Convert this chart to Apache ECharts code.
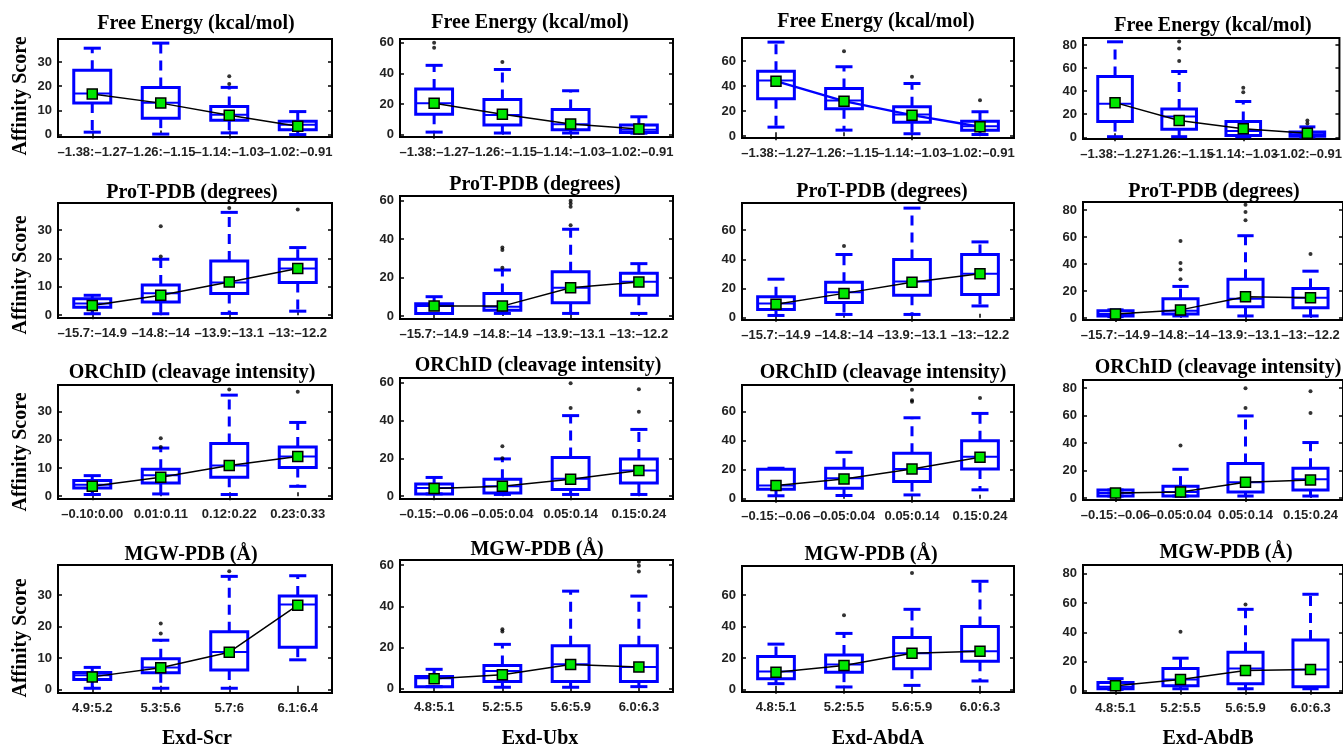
<!DOCTYPE html>
<html>
<head>
<meta charset="utf-8">
<script src="https://cdn.jsdelivr.net/npm/echarts@6/dist/echarts.min.js"></script>
<style>
  html, body { margin: 0; padding: 0; background: #fff; }
  #chart { width: 1343px; height: 752px; }
</style>
</head>
<body>
<div id="chart"></div>
<script>
// category labels
const energyCats = ['–1.38:–1.27', '–1.26:–1.15', '–1.14:–1.03', '–1.02:–0.91'];
const protCats = ['–15.7:–14.9', '–14.8:–14', '–13.9:–13.1', '–13:–12.2'];
const orchidCatsScr = ['–0.10:0.00', '0.01:0.11', '0.12:0.22', '0.23:0.33'];
const orchidCats = ['–0.15:–0.06', '–0.05:0.04', '0.05:0.14', '0.15:0.24'];
const mgwCatsScr = ['4.9:5.2', '5.3:5.6', '5.7:6', '6.1:6.4'];
const mgwCats = ['4.8:5.1', '5.2:5.5', '5.6:5.9', '6.0:6.3'];

const featureTitles = ['Free Energy (kcal/mol)', 'ProT-PDB (degrees)', 'ORChID (cleavage intensity)', 'MGW-PDB (Å)'];
const complexNames = ['Exd-Scr', 'Exd-Ubx', 'Exd-AbdA', 'Exd-AbdB'];
const yTicks = [[0, 10, 20, 30], [0, 20, 40, 60], [0, 20, 40, 60], [0, 20, 40, 60, 80]];
const yRange = [[-1, 39.5], [-1.5, 62.5], [-1.5, 78.5], [-1.5, 86]];

// box stats: [low whisker, q1, median, q3, high whisker]
// Exd-Scr
const scrEnergyBox = [[1, 13, 17, 26.6, 35.7], [0.2, 6.8, 13.2, 19.5, 37.8], [0.7, 5.9, 8.2, 11.6, 19.5], [0, 2, 4.1, 5.5, 9.5]];
const scrEnergyMean = [16.8, 13, 8, 3.4];
const scrEnergyOut = [[2, 24.1], [2, 20.9]];
const scrProtBox = [[0.5, 2.8, 4.1, 5.8, 7], [0.5, 4.6, 7.7, 10.6, 19.7], [0.6, 7.6, 11.5, 19.1, 36.2], [1.4, 11.5, 16.4, 19.7, 23.8]];
const scrProtMean = [3.4, 7, 11.7, 16.4];
const scrProtOut = [[1, 31.3], [1, 20.7], [2, 37.7], [3, 37.2]];
const scrOrchidBox = [[0.6, 2.9, 4.1, 5.6, 7.3], [0.8, 4.7, 7.4, 9.6, 17.1], [0.6, 6.7, 10.9, 18.7, 35.9], [3.5, 10.2, 14.1, 17.5, 26.2]];
const scrOrchidMean = [3.5, 6.7, 10.9, 14.1];
const scrOrchidOut = [[1, 20.6], [1, 17.5], [2, 37.9], [3, 37.1]];
const scrMgwBox = [[0.5, 3.3, 4.6, 5.5, 7.1], [0.5, 5.4, 7.1, 9.8, 15.7], [0.5, 6.3, 12, 18.4, 35.9], [9.5, 13.5, 27, 29.7, 36.1]];
const scrMgwMean = [4.1, 7, 11.9, 26.8];
const scrMgwOut = [[1, 21], [1, 17.8], [2, 37.5]];

// Exd-Ubx
const ubxEnergyBox = [[1.7, 13.4, 20.6, 29.8, 45.3], [1.1, 6.4, 12.8, 23, 42.6], [1.1, 3.2, 6.8, 16.4, 28.7], [1, 1.5, 3.2, 6.4, 11.7]];
const ubxEnergyMean = [20.6, 13.4, 7, 3.8];
const ubxEnergyOut = [[0, 60], [0, 56.8], [1, 47.4]];
const ubxProtBox = [[1.4, 1.4, 5.2, 6.4, 10.1], [1.4, 3.1, 4.9, 11.8, 24], [1.4, 7, 14.8, 23.1, 45.2], [1.4, 10.8, 17.9, 22.3, 27.3]];
const ubxProtMean = [5.2, 5.2, 14.8, 17.7];
const ubxProtOut = [[1, 35.7], [1, 34.4], [1, 25.2], [2, 60], [2, 58.6], [2, 56.9], [2, 47.3]];
const ubxOrchidBox = [[1.2, 1.2, 4.3, 6.4, 9.9], [0.9, 1.7, 5.2, 9, 19.7], [0.9, 3.5, 9.2, 20.5, 42.6], [0.9, 7, 13.6, 19.7, 35.3]];
const ubxOrchidMean = [4, 5.2, 9, 13.6];
const ubxOrchidOut = [[1, 26.4], [1, 20], [2, 59.7], [2, 46.6], [3, 56.5], [3, 44.7]];
const ubxMgwBox = [[1.1, 1.1, 5.2, 6, 9.5], [0.8, 3.6, 8.7, 11.4, 21.6], [0.8, 3.6, 11.9, 20.9, 47.4], [1.1, 3.6, 10.6, 20.9, 45]];
const ubxMgwMean = [4.9, 6.9, 11.8, 10.6];
const ubxMgwOut = [[1, 28.9], [1, 27.8], [3, 61.6], [3, 59.7], [3, 56.9]];

// Exd-AbdA
const abdaEnergyBox = [[7.2, 29.9, 44.5, 52, 75.2], [4.8, 21.9, 28.5, 38.1, 55.5], [1.9, 11.2, 17.3, 23.5, 42.1], [1.3, 4.8, 8, 12, 19.5]];
const abdaEnergyMean = [44, 28, 16.8, 7.5];
const abdaEnergyOut = [[1, 68], [2, 47.5], [3, 28.8]];
const abdaProtBox = [[1.6, 5.6, 9.7, 14.4, 26.4], [2.3, 10.4, 17.4, 24.3, 43.3], [2.3, 15.5, 24.8, 39.8, 75], [8.1, 16, 30.1, 43.3, 51.9]];
const abdaProtMean = [9.3, 16.7, 24.3, 30.1];
const abdaProtOut = [[1, 49.1]];
const abdaOrchidBox = [[2.1, 6.6, 9.2, 20.4, 21.1], [2.3, 7.3, 14.2, 21.1, 32.1], [2.7, 11.9, 20.6, 31.4, 55.9], [6.2, 20.6, 29.1, 40.1, 58.9]];
const abdaOrchidMean = [9.2, 13.7, 20.6, 28.6];
const abdaOrchidOut = [[2, 75.3], [2, 68], [2, 66.9], [3, 69.6]];
const abdaMgwBox = [[3.8, 6.9, 11.5, 21, 28.9], [1.7, 11.1, 15.9, 22, 35.7], [2.7, 13.2, 23.1, 33.1, 51], [5.5, 18, 24.3, 40.1, 68.8]];
const abdaMgwMean = [11.1, 15.3, 23.1, 24.3];
const abdaMgwOut = [[1, 47.2], [2, 74]];

// Exd-AbdB
const abdbEnergyBox = [[0.5, 13.6, 29, 52.7, 82.7], [0.5, 7, 18, 24.5, 57], [0.5, 1.5, 5.5, 13.6, 31], [0.3, 0.8, 2.7, 4.5, 9]];
const abdbEnergyMean = [30, 14.5, 7.3, 3.5];
const abdbEnergyOut = [[1, 83], [1, 77], [1, 66], [2, 43], [2, 39], [3, 14.5], [3, 12]];
const abdbProtBox = [[1, 1.5, 3, 5.3, 6], [1.5, 3, 5.3, 14.3, 23.4], [1.5, 8.3, 14.3, 28.7, 61], [1.5, 7.5, 15, 21.9, 34.7]];
const abdbProtMean = [3, 6, 15.8, 15];
const abdbProtOut = [[1, 57], [1, 40.8], [1, 36], [1, 28.7], [2, 84], [2, 78.5], [2, 72.5], [3, 47.5]];
const abdbOrchidBox = [[1.4, 1.4, 3.6, 5.8, 5.8], [1.4, 1.4, 4.3, 8.6, 20.9], [1.4, 4.3, 11.5, 25.2, 59.8], [1.4, 5.8, 13.7, 21.6, 40.4]];
const abdbOrchidMean = [3.6, 4.3, 11.5, 13];
const abdbOrchidOut = [[1, 38.2], [2, 80], [2, 65.6], [3, 77.8], [3, 62]];
const abdbMgwBox = [[1, 1.4, 2.8, 5.6, 8.3], [1.4, 3.5, 7.7, 15.3, 22.3], [1.4, 4.9, 15.3, 26.4, 55.7], [1.4, 2.8, 14.6, 34.8, 66]];
const abdbMgwMean = [3.5, 7.7, 13.9, 14.6];
const abdbMgwOut = [[1, 40.3], [2, 59]];

// column x row
const boxes = [
  [scrEnergyBox, scrProtBox, scrOrchidBox, scrMgwBox],
  [ubxEnergyBox, ubxProtBox, ubxOrchidBox, ubxMgwBox],
  [abdaEnergyBox, abdaProtBox, abdaOrchidBox, abdaMgwBox],
  [abdbEnergyBox, abdbProtBox, abdbOrchidBox, abdbMgwBox]
];
const means = [
  [scrEnergyMean, scrProtMean, scrOrchidMean, scrMgwMean],
  [ubxEnergyMean, ubxProtMean, ubxOrchidMean, ubxMgwMean],
  [abdaEnergyMean, abdaProtMean, abdaOrchidMean, abdaMgwMean],
  [abdbEnergyMean, abdbProtMean, abdbOrchidMean, abdbMgwMean]
];
const outliers = [
  [scrEnergyOut, scrProtOut, scrOrchidOut, scrMgwOut],
  [ubxEnergyOut, ubxProtOut, ubxOrchidOut, ubxMgwOut],
  [abdaEnergyOut, abdaProtOut, abdaOrchidOut, abdaMgwOut],
  [abdbEnergyOut, abdbProtOut, abdbOrchidOut, abdbMgwOut]
];
const cats = [
  [energyCats, protCats, orchidCatsScr, mgwCatsScr],
  [energyCats, protCats, orchidCats, mgwCats],
  [energyCats, protCats, orchidCats, mgwCats],
  [energyCats, protCats, orchidCats, mgwCats]
];

// layout (pixels)
const colLeft = [58, 400, 742, 1083];
const colWidth = [274, 273, 272, 273];
const panelTop = [[39, 203, 385, 565], [39, 196, 378, 560], [38, 203, 385, 566], [38, 202, 380, 565]];
const panelBottom = [[137, 318, 499, 693], [137, 319, 499, 692], [138, 320, 501, 692], [139, 320, 500, 693]];
const titleX = [[196, 192, 192, 191], [530, 535, 538, 537], [876, 882, 883, 871], [1213, 1214, 1218, 1226]];
const titleY = [[24, 193, 373, 555], [23, 185, 366, 550], [22, 192, 373, 555], [26, 192, 368, 553]];
const yNameY = [96, 275, 452, 638];
const bottomNameX = [197, 540, 878, 1208];

const BLUE = '#0000ff';

function renderBox(params, api) {
  const i = api.value(0);
  const band = api.size([1, 0])[0];
  const hw = band * 0.27;
  const cw = band * 0.125;
  const x = api.coord([i, 0])[0];
  const y = (k) => api.coord([i, api.value(k)])[1];
  const lo = y(1), q1 = y(2), md = y(3), q3 = y(4), hi = y(5);
  const dash = { stroke: BLUE, lineWidth: 3, lineDash: [10, 7] };
  const solid = { stroke: BLUE, lineWidth: 3 };
  return {
    type: 'group',
    children: [
      { type: 'line', shape: { x1: x, y1: q3, x2: x, y2: hi }, style: dash },
      { type: 'line', shape: { x1: x, y1: q1, x2: x, y2: lo }, style: dash },
      { type: 'line', shape: { x1: x - cw, y1: hi, x2: x + cw, y2: hi }, style: solid },
      { type: 'line', shape: { x1: x - cw, y1: lo, x2: x + cw, y2: lo }, style: solid },
      { type: 'rect', shape: { x: x - hw, y: q3, width: hw * 2, height: q1 - q3 }, style: { fill: 'none', stroke: BLUE, lineWidth: 3 } },
      { type: 'line', shape: { x1: x - hw, y1: md, x2: x + hw, y2: md }, style: { stroke: BLUE, lineWidth: 2 } }
    ]
  };
}

const grids = [], xAxes = [], yAxes = [], series = [], graphics = [];
const labelFont = { color: '#222', fontSize: 13, fontWeight: 'bold', fontFamily: 'Liberation Sans' };
const tickStyle = { color: '#000', width: 1.5 };

for (let c = 0; c < 4; c++) {
  for (let r = 0; r < 4; r++) {
    const g = grids.length;
    grids.push({
      left: colLeft[c], top: panelTop[c][r], width: colWidth[c], height: panelBottom[c][r] - panelTop[c][r],
      show: true, borderColor: '#000', borderWidth: 2, backgroundColor: 'transparent'
    });
    const xBase = {
      type: 'category', gridIndex: g, data: cats[c][r],
      axisLine: { show: false }, splitLine: { show: false },
      axisTick: { show: true, inside: true, alignWithLabel: true, length: 4, lineStyle: tickStyle }
    };
    xAxes.push(Object.assign({}, xBase, {
      position: 'bottom',
      axisLabel: Object.assign({ interval: 0, margin: 9 }, labelFont)
    }));
    xAxes.push(Object.assign({}, xBase, { position: 'top', axisLabel: { show: false } }));
    const yBase = {
      type: 'value', gridIndex: g, min: yRange[c][0], max: yRange[c][1],
      axisLine: { show: false }, splitLine: { show: false },
      axisTick: { show: true, inside: true, length: 4, lineStyle: tickStyle, customValues: yTicks[c] }
    };
    yAxes.push(Object.assign({}, yBase, {
      position: 'left',
      axisLabel: Object.assign({ customValues: yTicks[c], margin: 6 }, labelFont)
    }));
    yAxes.push(Object.assign({}, yBase, { position: 'right', axisLabel: { show: false } }));

    const xi = 2 * g, yi = 2 * g;
    series.push({
      type: 'custom', xAxisIndex: xi, yAxisIndex: yi, z: 2,
      renderItem: renderBox,
      encode: { x: 0, y: [1, 2, 3, 4, 5] },
      data: boxes[c][r].map((b, i) => [i].concat(b))
    });
    series.push({
      type: 'scatter', xAxisIndex: xi, yAxisIndex: yi, z: 3,
      symbolSize: 4, itemStyle: { color: '#000' },
      data: outliers[c][r]
    });
    const blueLine = c === 2 && r === 0;
    series.push({
      type: 'line', xAxisIndex: xi, yAxisIndex: yi, z: 4,
      symbol: 'rect', symbolSize: 10,
      itemStyle: { color: '#00e600', borderColor: '#000', borderWidth: 1.5 },
      lineStyle: { color: blueLine ? BLUE : '#000', width: blueLine ? 2.5 : 1.5 },
      data: means[c][r]
    });

    graphics.push({
      type: 'text', x: titleX[c][r], y: titleY[c][r],
      style: {
        text: featureTitles[r], fill: '#000', fontSize: 20, fontWeight: 'bold',
        fontFamily: 'Liberation Serif', textAlign: 'center', textVerticalAlign: 'middle'
      }
    });
  }
  graphics.push({
    type: 'text', x: bottomNameX[c], y: 739,
    style: {
      text: complexNames[c], fill: '#000', fontSize: 20, fontWeight: 'bold',
      fontFamily: 'Liberation Serif', textAlign: 'center', textVerticalAlign: 'middle'
    }
  });
}
for (let r = 0; r < 4; r++) {
  graphics.push({
    type: 'text', x: 21, y: yNameY[r], rotation: Math.PI / 2,
    style: {
      text: 'Affinity Score', fill: '#000', fontSize: 20, fontWeight: 'bold',
      fontFamily: 'Liberation Serif', textAlign: 'center', textVerticalAlign: 'middle'
    }
  });
}

const chart = echarts.init(document.getElementById('chart'));
chart.setOption({
  animation: false,
  backgroundColor: '#fff',
  grid: grids,
  xAxis: xAxes,
  yAxis: yAxes,
  series: series,
  graphic: graphics
});
</script>
</body>
</html>
